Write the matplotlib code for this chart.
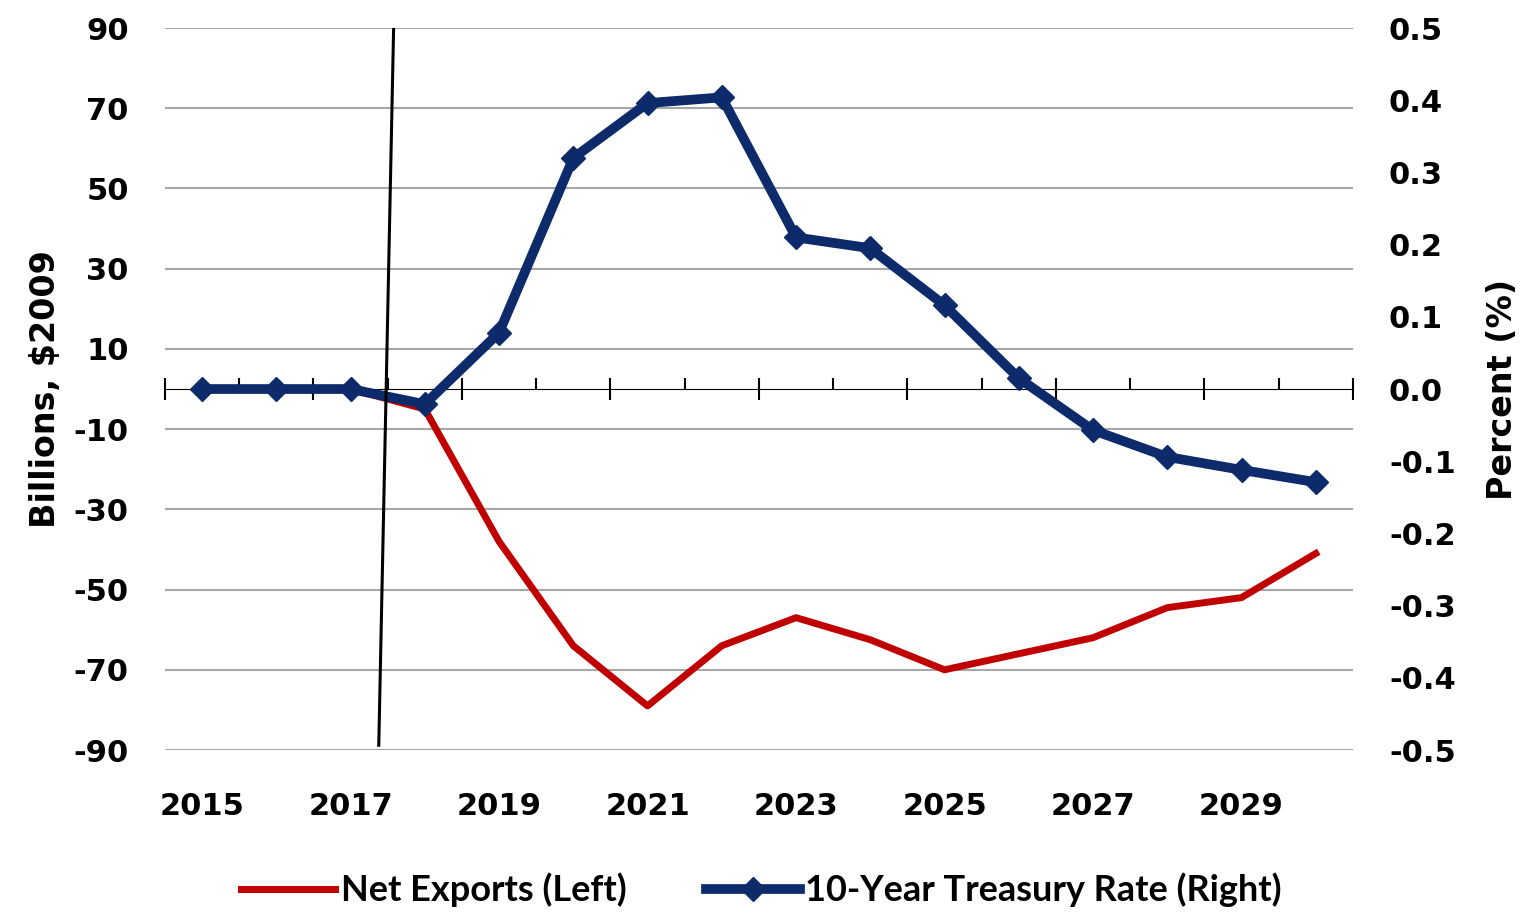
import numpy as np
import matplotlib.pyplot as plt
from matplotlib.lines import Line2D

years = np.arange(2015, 2031)
net_exports = [0, 0, 0, -5, -38, -64, -79, -64, -57, -62.5, -70, -66, -62, -54.5, -52, -41]
treasury = [0, 0, 0, -0.021, 0.078, 0.32, 0.396, 0.404, 0.21, 0.195, 0.116, 0.015,
            -0.057, -0.094, -0.112, -0.129]
label_years = np.arange(2015, 2031, 2)
left_ticks = np.arange(-90, 91, 20)
right_ticks = np.round(np.arange(-0.5, 0.51, 0.1), 1)
# hand drawn marker line (start of projection)
marker_x = [2017.58, 2017.38]
marker_y = [90, -88.8]

red = '#C00000'
navy = '#0D2A6B'
tick_font = dict(family='DejaVu Sans', weight='bold', size=22)

fig = plt.figure(figsize=(15.23, 9.13), dpi=100)
ax = fig.add_axes([0.1083, 0.1785, 0.7800, 0.7908])
ax2 = ax.twinx()

ax.plot(years, net_exports, color=red, lw=5, solid_joinstyle='round', zorder=3)
ax2.plot(years, treasury, color=navy, lw=7, marker='D', ms=12, zorder=3)
ax2.plot(marker_x, [v / 180 for v in marker_y], color='black', lw=2.2, zorder=5)

ax.set_xlim(2014.5, 2030.5)
ax.set_ylim(-90, 90)
ax2.set_ylim(-0.5, 0.5)

ax.set_yticks(left_ticks)
ax.set_yticklabels([str(v) for v in left_ticks], fontdict=tick_font)
ax2.set_yticks(right_ticks)
ax2.set_yticklabels([f'{abs(v):.1f}' if v == 0 else f'{v:.1f}' for v in right_ticks],
                    fontdict=tick_font)
ax.tick_params(axis='y', length=0, pad=26)
ax2.tick_params(axis='y', length=0, pad=26)
ax.grid(axis='y', color='#A6A6A6', lw=1.5)
ax.set_axisbelow(True)

ax.set_xticks(label_years)
ax.set_xticklabels([str(y) for y in label_years], fontdict=tick_font)
ax.tick_params(axis='x', length=0, pad=30)

for a in (ax, ax2):
    for s in a.spines.values():
        s.set_visible(False)

# zero axis with tick marks
zero = ax.secondary_xaxis(0.5)
zero.spines['bottom'].set_linewidth(1.5)
zero.set_xticks(np.arange(2014.5, 2031, 2), labels=[])
zero.set_xticks(np.arange(2015.5, 2031, 2), labels=[], minor=True)
zero.tick_params(which='major', direction='inout', length=16, width=1.5,
                 labelbottom=False, labeltop=False)
zero.tick_params(which='minor', direction='out', length=8, width=1.5,
                 labelbottom=False, labeltop=False)

ax.set_ylabel('Billions, $2009', fontsize=24, family='DejaVu Sans', weight='bold',
              labelpad=8)
ax2.set_ylabel('Percent (%)', fontsize=24, family='DejaVu Sans', weight='bold',
               rotation=90, labelpad=22)

handles = [Line2D([], [], color=red, lw=5),
           Line2D([], [], color=navy, lw=7, marker='D', ms=12)]
fig.legend(handles, ['Net Exports (Left)', '10-Year Treasury Rate (Right)'],
           loc='center', bbox_to_anchor=(0.5, 0.025), ncol=2, frameon=False,
           prop=dict(family='Lato', size=26, weight='bold'), handlelength=2.6,
           handletextpad=0.15, columnspacing=2.2)

fig.savefig('out.png', dpi=100)
